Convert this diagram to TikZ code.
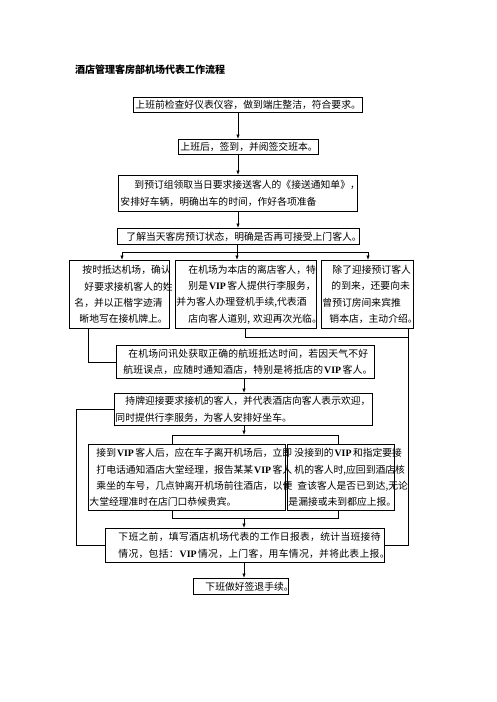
\documentclass[tikz,border=0pt]{standalone}
\usepackage{fontspec}
\newfontfamily\cjk{Noto Sans CJK SC}
\newfontfamily\lserif{Liberation Serif}
\usetikzlibrary{arrows.meta}
\newcommand{\vip}{\hspace{1pt}{\lserif\bfseries VIP}\hspace{1.5pt}}
\newcommand{\tline}[2]{\mbox{\hspace*{#1pt}#2}}
\newcommand{\bx}[6]{%
  \pgfmathsetmacro\bxw{#4-#2}%
  \pgfmathsetmacro\bxh{#5-#3}%
  \pgfmathsetmacro\bxt{#4-#2-2}%
  \node[box, minimum width=\bxw pt, minimum height=\bxh pt, text width=\bxt pt] (#1) at (#2,#3) {#6};}
\begin{document}
\begin{tikzpicture}[x=1pt,y=-1pt,
  box/.style={draw, line width=0.9pt, inner xsep=1pt, inner ysep=0pt, align=left,
    font=\cjk\fontsize{9.8}{16.3}\selectfont, anchor=north west},
  conn/.style={line width=0.8pt},
  arr/.style={line width=0.8pt, -{Latex[length=4.5pt,width=3.5pt]}},
  ttl/.style={font=\cjk\bfseries\fontsize{10}{12}\selectfont, anchor=west, inner sep=0pt}]
\path[fill=white] (0,0) rectangle (496,702);
\useasboundingbox (0,0) rectangle (496,702);

\node[ttl] (title) at (75,70) {酒店管理客房部机场代表工作流程};

\bx{b1}{133}{97}{362}{112}{\tline{1}{上班前检查好仪表仪容，做到端庄整洁，符合要求。}}
\bx{b2}{178}{139}{318}{154}{\tline{1}{上班后，签到，并阅签交班本。}}
\bx{b3}{118}{175}{357}{211}{\tline{15}{到预订组领取当日要求接送客人的《接送通知单》，}\\\tline{1}{安排好车辆，明确出车的时间，作好各项准备}}
\bx{b4}{117}{228}{359}{244}{\tline{8}{了解当天客房预订状态，明确是否再可接受上门客人。}}

\bx{bA}{69}{260}{169}{328}{\tline{12}{按时抵达机场，确认}\\\tline{14}{好要求接机客人的姓}\\\tline{4}{名，并以正楷字迹清}\\\tline{9}{晰地写在接机牌上。}}
\bx{bB}{175}{260}{316}{328}{\tline{12}{在机场为本店的离店客人，特}\\\tline{12}{别是\vip 客人提供行李服务，}\\\tline{0}{并为客人办理登机手续,代表酒}\\\tline{12}{店向客人道别, 欢迎再次光临。}}
\bx{bC}{321}{260}{413}{328}{\tline{10}{除了迎接预订客人}\\\tline{9}{的到来，还要向未}\\\tline{0}{曾预订房间来宾推}\\\tline{7}{销本店，主动介绍。}}

\bx{bD}{116}{345}{374}{378}{\addfontfeature{LetterSpace=2}\tline{11}{在机场问讯处获取正确的航班抵达时间，若因天气不好}\\\tline{6}{航班误点，应随时通知酒店，特别是将抵店的\vip 客人。}}
\bx{bE}{114}{393}{372}{425}{\tline{10}{持牌迎接要求接机的客人，并代表酒店向客人表示欢迎，}\\\tline{0}{同时提供行李服务，为客人安排好坐车。}}

\bx{bG}{88}{444}{285}{510}{\tline{7}{接到\vip 客人后，应在车子离开机场后，立即}\\\tline{7}{打电话通知酒店大堂经理，报告某某\vip 客人}\\\tline{7}{乘坐的车号，几点钟离开机场前往酒店，以便}\\\tline{0}{大堂经理准时在店门口恭候贵宾。}}
\bx{bH}{287}{444}{394}{510}{\tline{6}{没接到的\vip 和指定要接}\\\tline{6}{机的客人时,应回到酒店核}\\\tline{9}{查该客人是否已到达,无论}\\\tline{0}{是漏接或未到都应上报。}}

\bx{bF}{105}{528}{384}{562}{\addfontfeature{LetterSpace=3}\tline{12}{下班之前，填写酒店机场代表的工作日报表，统计当班接待}\\\tline{12}{情况，包括：\vip 情况，上门客，用车情况，并将此表上报。}}
\bx{bI}{193}{578}{288}{594}{\tline{11}{下班做好签退手续。}}

% upper column
\coordinate (c1) at (238,0);
\draw[arr] (b1.south -| c1) -- (b2.north -| c1);
\draw[arr] (b2.south -| c1) -- (b3.north -| c1);
\draw[arr] (b3.south -| c1) -- (b4.north -| c1);

% three-way branch
\coordinate (j1) at (237,252);
\coordinate (jL) at (122,252);
\coordinate (jR) at (368,252);
\draw[conn] (b4.south -| j1) -- (j1);
\draw[conn] (jL) -- (jR);
\draw[arr] (jL) -- (bA.north -| jL);
\draw[arr] (j1) -- (bB.north -| j1);
\draw[arr] (jR) -- (bC.north -| jR);

% joins
\coordinate (aX) at (88,0);
\draw[conn] (bA.south -| aX) |- (bD.west);
\coordinate (bX) at (245,0);
\coordinate (rX) at (408,337);
\draw[conn] (bB.south -| bX) |- (rX);
\draw[conn] (bC.south -| rX) |- (bF.east);

% lower column
\coordinate (c2) at (244,0);
\draw[arr] (bD.south -| c2) -- (bE.north -| c2);
\coordinate (lX) at (76,0);
\draw[conn] (bE.west) -| (lX |- bF.west) -- (bF.west);

\coordinate (j2) at (244,435);
\coordinate (gL) at (172,435);
\coordinate (gR) at (338,435);
\draw[arr] (bE.south -| j2) -- (j2);
\draw[conn] (bG.north -| gL) -- (gL) -- (gR) -- (bH.north -| gR);

\coordinate (j3) at (244,518);
\coordinate (hL) at (172,518);
\coordinate (hR) at (338,518);
\draw[conn] (bG.south -| hL) -- (hL) -- (hR) -- (bH.south -| hR);
\draw[arr] (j3) -- (bF.north -| j3);

\draw[arr] (bF.south -| c2) -- (bI.north -| c2);
\end{tikzpicture}
\end{document}
